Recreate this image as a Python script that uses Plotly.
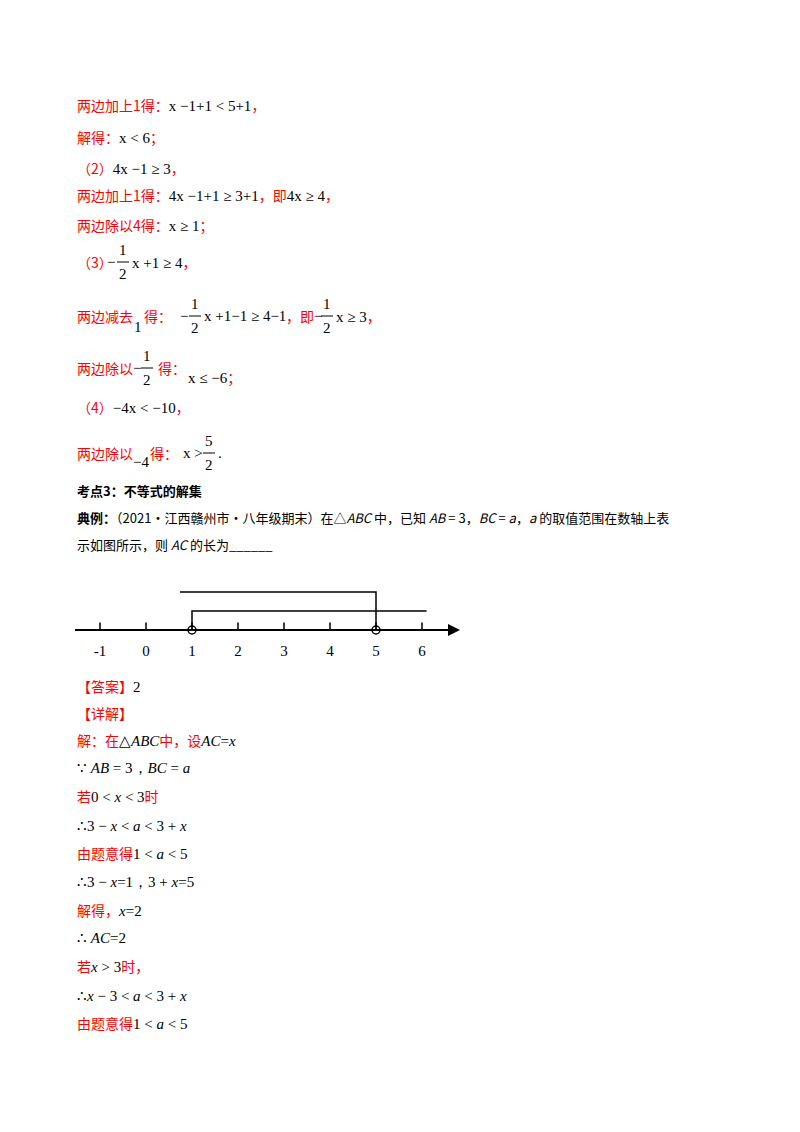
import plotly.graph_objects as go

# number line data
tick_vals = [-1, 0, 1, 2, 3, 4, 5, 6]
tick_text = ["-1", "0", "1", "2", "3", "4", "5", "6"]
open_points = [1, 5]
upper_bracket_x = [0.74, 5, 5]
upper_bracket_y = [1.0, 1.0, 0]
lower_bracket_x = [1, 1, 6.1]
lower_bracket_y = [0, 0.5, 0.5]

OFF = 8
W, H = 800 - 2 * OFF, 1132 - 2 * OFF
RED = "#FF0000"
CJK = "Noto Sans CJK SC"
SERIF = "Liberation Serif"

fig = go.Figure()

def px(p):
    return (p - OFF) / W

def py(p):
    return 1 - (p - OFF) / H

fig.update_layout(
    width=W, height=H, margin=dict(l=0, r=0, t=0, b=0),
    paper_bgcolor="white", plot_bgcolor="white", showlegend=False,
    xaxis=dict(domain=[px(75), px(458)], range=[(75 - 146) / 46, (458 - 146) / 46],
               tickvals=tick_vals, ticktext=tick_text, showgrid=False, zeroline=False,
               showline=False, ticks="", tickfont=dict(family=SERIF, size=15, color="black")),
    yaxis=dict(domain=[py(640), py(580)], range=[-10 / 38, 50 / 38], visible=False),
)

fig.add_trace(go.Scatter(x=[(75 - 146) / 46, (452 - 146) / 46], y=[0, 0], mode="lines",
                         line=dict(color="black", width=2), hoverinfo="skip"))
fig.add_annotation(x=(460 - 146) / 46, y=0, ax=(440 - 146) / 46, ay=0, xref="x", yref="y",
                   axref="x", ayref="y", showarrow=True, arrowhead=2, arrowsize=1.2,
                   arrowwidth=2, arrowcolor="black", text="")
for t in tick_vals:
    fig.add_trace(go.Scatter(x=[t, t], y=[0, 0.2], mode="lines",
                             line=dict(color="black", width=1.5), hoverinfo="skip"))
fig.add_trace(go.Scatter(x=upper_bracket_x, y=upper_bracket_y, mode="lines",
                         line=dict(color="black", width=1.5), hoverinfo="skip"))
fig.add_trace(go.Scatter(x=lower_bracket_x, y=lower_bracket_y, mode="lines",
                         line=dict(color="black", width=1.5), hoverinfo="skip"))
fig.add_trace(go.Scatter(x=open_points, y=[0] * len(open_points), mode="markers",
                         marker=dict(symbol="circle-open", size=8, color="black",
                                     line=dict(width=1.5)), hoverinfo="skip"))

def txt(x, y, s, color="black", size=14, family=CJK, anchor="left"):
    fig.add_annotation(x=px(x), y=py(y), xref="paper", yref="paper", text=s,
                       showarrow=False, xanchor=anchor, yanchor="middle",
                       font=dict(family=family, size=size, color=color))

def m(s):
    return f"<span style='font-family:{SERIF};color:black;font-size:15px'>{s}</span>"

def r(s):
    return f"<span style='color:{RED}'>{s}</span>"

def frac(x, y, n, d):
    txt(x, y - 12, n, family=SERIF, size=15, anchor="center")
    txt(x, y + 12, d, family=SERIF, size=15, anchor="center")
    fig.add_shape(type="line", xref="paper", yref="paper", x0=px(x - 6), x1=px(x + 6),
                  y0=py(y), y1=py(y), line=dict(color="black", width=1))

L = 75
txt(L, 105, r("两边加上1得：") + m("x −1+1 &lt; 5+1") + r("，"))
txt(L, 137, r("解得：") + m("x &lt; 6") + r("；"))
txt(L, 168, r("（2）") + m("4x −1 ≥ 3") + r("，"))
txt(L, 195, r("两边加上1得：") + m("4x −1+1 ≥ 3+1") + r("，即") + m("4x ≥ 4") + r("，"))
txt(L, 225, r("两边除以4得：") + m("x ≥ 1") + r("；"))

txt(L, 262, r("（3）"))
txt(105, 262, "−", family=SERIF, size=15)
frac(123, 262, "1", "2")
txt(130, 262, m("x +1 ≥ 4") + r("，"))

txt(L, 316, r("两边减去"))
txt(132, 327, "1", family=SERIF, size=15)
txt(142, 316, r("得："))
txt(178, 316, "−", family=SERIF, size=15)
frac(195, 316, "1", "2")
txt(202, 316, m("x +1−1 ≥ 4−1"))
txt(284, 316, r("，即"))
txt(312, 316, "−", family=SERIF, size=15)
frac(327, 316, "1", "2")
txt(334, 316, m("x ≥ 3") + r("，"))

txt(L, 368, r("两边除以"))
txt(131, 368, "−", family=SERIF, size=15)
frac(147, 368, "1", "2")
txt(156, 368, r("得："))
txt(186, 377, m("x ≤ −6") + r("；"))

txt(L, 407, r("（4）") + m("−4x &lt; −10") + r("，"))

txt(L, 453, r("两边除以"))
txt(131, 462, "−4", family=SERIF, size=15)
txt(148, 453, r("得："))
txt(181, 453, m("x &gt;"))
frac(209, 453, "5", "2")
txt(216, 453, m("."))

txt(L, 490, "<b>考点3：不等式的解集</b>", size=13)
txt(L, 517, "<b>典例：</b>（2021·江西赣州市·八年级期末）在△<i>ABC</i> 中，已知 <i>AB</i> = 3，<i>BC</i> = <i>a</i>，<i>a</i> 的取值范围在数轴上表", size=13)
txt(L, 544, "示如图所示，则 <i>AC</i> 的长为______", size=13)

txt(L, 686, r("【答案】") + m("2"))
txt(L, 713, r("【详解】"))
txt(L, 740, r("解：在") + m("△<i>ABC</i>") + r("中，设") + m("<i>AC</i>=<i>x</i>"))
txt(L, 768, m("∵ <i>AB</i> = 3，<i>BC</i> = <i>a</i>"))
txt(L, 796, r("若") + m("0 &lt; <i>x</i> &lt; 3") + r("时"))
txt(L, 826, m("∴3 − <i>x</i> &lt; <i>a</i> &lt; 3 + <i>x</i>"), size=13)
txt(L, 853, r("由题意得") + m("1 &lt; <i>a</i> &lt; 5"))
txt(L, 882, m("∴3 − <i>x</i>=1，3 + <i>x</i>=5"), size=13)
txt(L, 910, r("解得，") + m("<i>x</i>=2"))
txt(L, 938, m("∴ <i>AC</i>=2"))
txt(L, 966, r("若") + m("<i>x</i> &gt; 3") + r("时，"))
txt(L, 996, m("∴<i>x</i> − 3 &lt; <i>a</i> &lt; 3 + <i>x</i>"), size=13)
txt(L, 1023, r("由题意得") + m("1 &lt; <i>a</i> &lt; 5"))

fig.write_html("out.html")
